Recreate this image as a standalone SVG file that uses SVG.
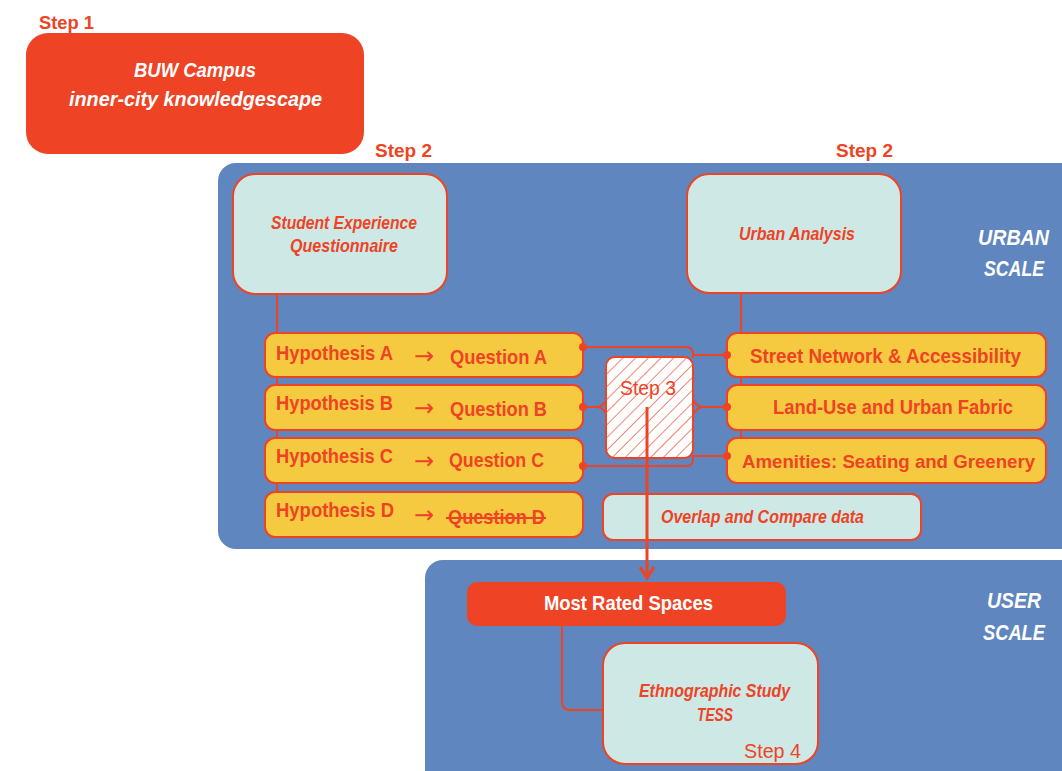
<svg xmlns="http://www.w3.org/2000/svg" width="1062" height="771" viewBox="0 0 1062 771">
<defs>
<style>
text{font-family:"Liberation Sans Narrow","Liberation Sans",Arial,sans-serif;font-weight:bold}
.red{fill:#EE4324}
.wht{fill:#FFFFFF}
.it{font-style:italic}
.panel{fill:#5F86BF}
.cyan{fill:#CEE8E6;stroke:#EE4324;stroke-width:2}
.yel{fill:#F5CA40;stroke:#EE4324;stroke-width:2}
.conn{fill:none;stroke:#EE4324;stroke-width:2}
.dot{fill:#EE4324}
.arr{font-family:"DejaVu Sans",sans-serif;font-weight:normal;font-size:24px;fill:#EE4324}
</style>
<pattern id="hatch" patternUnits="userSpaceOnUse" width="9" height="9" patternTransform="rotate(45)">
<rect width="9" height="9" fill="#FFFFFF"/>
<line x1="0" y1="0" x2="0" y2="9" stroke="#EE4324" stroke-width="1.3"/>
</pattern>
</defs>
<rect width="1062" height="771" fill="#FFFFFF"/>

<!-- panels -->
<g id="urban-panel">
<rect class="panel" x="218" y="163" width="870" height="386" rx="18"/>
<text class="wht it" x="978" y="245" font-size="22" textLength="71" lengthAdjust="spacingAndGlyphs">URBAN</text>
<text class="wht it" x="984" y="276" font-size="22" textLength="60" lengthAdjust="spacingAndGlyphs">SCALE</text>
</g>
<g id="user-panel">
<rect class="panel" x="425" y="560" width="660" height="240" rx="18"/>
<text class="wht it" x="987" y="608" font-size="22" textLength="54" lengthAdjust="spacingAndGlyphs">USER</text>
<text class="wht it" x="983" y="640" font-size="22" textLength="62" lengthAdjust="spacingAndGlyphs">SCALE</text>
</g>

<!-- connectors -->
<g id="connectors">
<line class="conn" x1="277" y1="294" x2="277" y2="495"/>
<line class="conn" x1="741" y1="293" x2="741" y2="440"/>
<path class="conn" d="M583,347 H686 Q693,347 693,354 V358"/>
<path class="conn" d="M693,355 H727"/>
<path class="conn" d="M583,466 H686 Q693,466 693,459 V455"/>
<path class="conn" d="M693,456 H727"/>
<path class="conn" d="M583,407 H597 Q603,407 607,399"/>
<path class="conn" d="M597,407 Q603,407 607,415"/>
<path class="conn" d="M727,407 H703 Q697,407 693,399"/>
<path class="conn" d="M703,407 Q697,407 693,415"/>
<path class="conn" d="M562,626 V702 Q562,710 570,710 H604"/>
</g>

<!-- Step 1 -->
<g id="step1">
<text class="red" x="39" y="29" font-size="19" textLength="55" lengthAdjust="spacingAndGlyphs">Step 1</text>
<rect x="26" y="33" width="338" height="121" rx="22" fill="#EE4324"/>
<text class="wht it" x="134" y="77" font-size="20" textLength="122" lengthAdjust="spacingAndGlyphs">BUW Campus</text>
<text class="wht it" x="69" y="106" font-size="20" textLength="253" lengthAdjust="spacingAndGlyphs">inner-city  knowledgescape</text>
</g>

<g id="step2-left">
<text class="red" x="375" y="157" font-size="19" textLength="57" lengthAdjust="spacingAndGlyphs">Step 2</text>
</g>
<g id="step2-right">
<text class="red" x="836" y="157" font-size="19" textLength="57" lengthAdjust="spacingAndGlyphs">Step 2</text>
</g>

<g id="questionnaire">
<rect class="cyan" x="233" y="174" width="214" height="120" rx="22"/>
<text class="red it" x="271" y="229" font-size="18" textLength="146" lengthAdjust="spacingAndGlyphs">Student Experience</text>
<text class="red it" x="290" y="252" font-size="18" textLength="108" lengthAdjust="spacingAndGlyphs">Questionnaire</text>
</g>

<g id="urban-analysis">
<rect class="cyan" x="687" y="174" width="214" height="119" rx="22"/>
<text class="red it" x="739" y="240" font-size="18" textLength="116" lengthAdjust="spacingAndGlyphs">Urban Analysis</text>
</g>

<!-- Hypotheses -->
<g id="hyp-a">
<rect class="yel" x="265" y="333" width="318" height="44" rx="10"/>
<text class="red" x="276" y="360" font-size="21" textLength="117" lengthAdjust="spacingAndGlyphs">Hypothesis A</text>
<text class="arr" x="414" y="364">→</text>
<text class="red" x="450" y="364" font-size="21" textLength="97" lengthAdjust="spacingAndGlyphs">Question A</text>
</g>
<g id="hyp-b">
<rect class="yel" x="265" y="385" width="318" height="45" rx="10"/>
<text class="red" x="276" y="410" font-size="21" textLength="117" lengthAdjust="spacingAndGlyphs">Hypothesis B</text>
<text class="arr" x="414" y="416">→</text>
<text class="red" x="450" y="416" font-size="21" textLength="97" lengthAdjust="spacingAndGlyphs">Question B</text>
</g>
<g id="hyp-c">
<rect class="yel" x="265" y="438" width="318" height="45" rx="10"/>
<text class="red" x="276" y="463" font-size="21" textLength="117" lengthAdjust="spacingAndGlyphs">Hypothesis C</text>
<text class="arr" x="414" y="469">→</text>
<text class="red" x="449" y="467" font-size="21" textLength="95" lengthAdjust="spacingAndGlyphs">Question C</text>
</g>
<g id="hyp-d">
<rect class="yel" x="265" y="492" width="318" height="45" rx="10"/>
<text class="red" x="276" y="517" font-size="21" textLength="118" lengthAdjust="spacingAndGlyphs">Hypothesis D</text>
<text class="arr" x="414" y="523">→</text>
<text class="red" x="448" y="524" font-size="21" textLength="97" lengthAdjust="spacingAndGlyphs">Question D</text>
<line x1="446" y1="518" x2="546" y2="518" stroke="#EE4324" stroke-width="2"/>
</g>

<!-- Right boxes -->
<g id="street-network">
<rect class="yel" x="727" y="333" width="319" height="44" rx="10"/>
<text class="red" x="750" y="363" font-size="21" textLength="271" lengthAdjust="spacingAndGlyphs">Street Network &amp; Accessibility</text>
</g>
<g id="land-use">
<rect class="yel" x="727" y="385" width="319" height="45" rx="10"/>
<text class="red" x="773" y="414" font-size="21" textLength="240" lengthAdjust="spacingAndGlyphs">Land-Use and Urban Fabric</text>
</g>
<g id="amenities">
<rect class="yel" x="727" y="438" width="319" height="45" rx="10"/>
<text class="red" x="742" y="468" font-size="19" textLength="293" lengthAdjust="spacingAndGlyphs">Amenities: Seating and Greenery</text>
</g>

<g id="overlap">
<rect class="cyan" x="603" y="494" width="318" height="46" rx="10"/>
<text class="red it" x="661" y="523" font-size="18" textLength="203" lengthAdjust="spacingAndGlyphs">Overlap and Compare data</text>
</g>

<g id="step3">
<rect x="606" y="357" width="87" height="101" rx="9" fill="url(#hatch)" stroke="#EE4324" stroke-width="2"/>
<text class="red" x="620" y="395" font-size="21" style="font-weight:normal" textLength="56" lengthAdjust="spacingAndGlyphs">Step 3</text>
</g>

<g id="connector-dots">
<circle class="dot" cx="583" cy="347" r="4"/>
<circle class="dot" cx="583" cy="407" r="4"/>
<circle class="dot" cx="583" cy="466" r="4"/>
<circle class="dot" cx="727" cy="355" r="4"/>
<circle class="dot" cx="727" cy="407" r="4"/>
<circle class="dot" cx="727" cy="456" r="4"/>
</g>

<g id="arrow-step3">
<line x1="647" y1="407" x2="647" y2="578" stroke="#EE4324" stroke-width="3"/>
<polyline points="640,567 647,578 654,567" fill="none" stroke="#EE4324" stroke-width="3"/>
</g>

<g id="most-rated">
<rect x="467" y="582" width="319" height="44" rx="10" fill="#EE4324"/>
<text class="wht" x="544" y="610" font-size="21" textLength="169" lengthAdjust="spacingAndGlyphs">Most Rated Spaces</text>
</g>

<g id="ethnographic">
<rect class="cyan" x="603" y="643" width="215" height="121" rx="22"/>
<text class="red it" x="639" y="697" font-size="18" textLength="151" lengthAdjust="spacingAndGlyphs">Ethnographic Study</text>
<text class="red it" x="697" y="721" font-size="18" textLength="36" lengthAdjust="spacingAndGlyphs">TESS</text>
<text class="red" x="744" y="758" font-size="21" style="font-weight:normal" textLength="57" lengthAdjust="spacingAndGlyphs">Step 4</text>
</g>
</svg>
